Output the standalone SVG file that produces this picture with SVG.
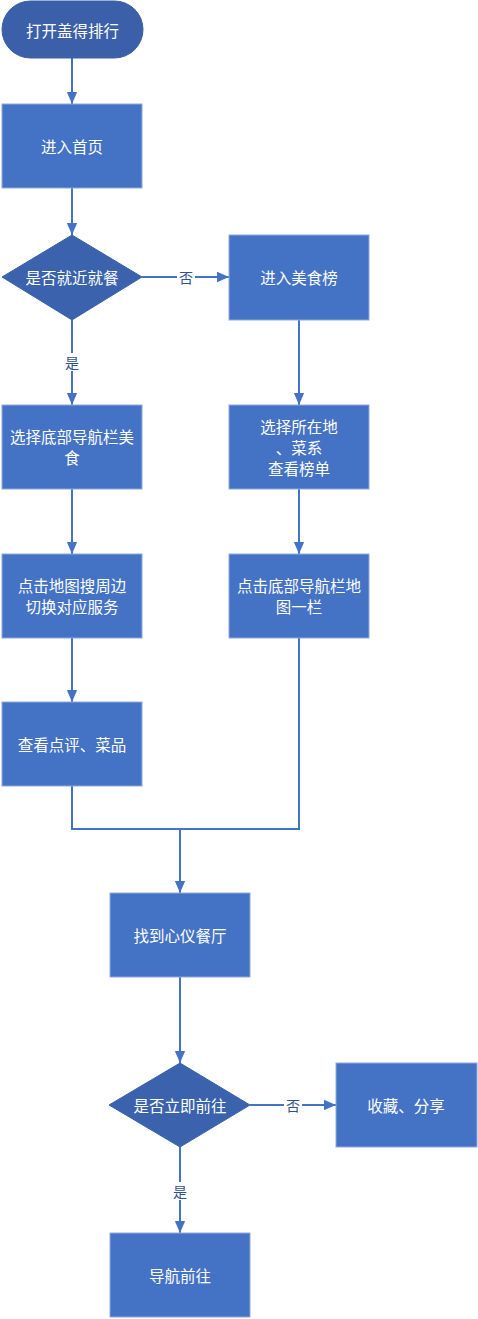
<svg xmlns="http://www.w3.org/2000/svg" width="478" height="1319" viewBox="0 0 478 1319">
<style>
.box{fill:#4472c4;stroke:#8faadc;stroke-width:1}
.dia{fill:#3a62ad;stroke:#3a62ad;stroke-width:1}
.term{fill:#3b5fa9;stroke:#3b5fa9;stroke-width:1}
.t{font-family:"Noto Sans CJK SC","Liberation Sans",sans-serif;font-size:15.5px;fill:#fff;text-anchor:middle;dominant-baseline:central}
.ln{fill:none;stroke:#4472c4;stroke-width:2}
.lb{font-family:"Noto Sans CJK SC","Liberation Sans",sans-serif;font-size:14px;fill:#2f528f;text-anchor:middle;dominant-baseline:central}
</style>
<defs>
<marker id="ah" markerWidth="12" markerHeight="14" refX="14" refY="6" viewBox="0 0 14 12" orient="auto" markerUnits="userSpaceOnUse">
<path d="M0,0 L14,6 L0,12 Z" fill="#4472c4"/>
</marker>
</defs>
<rect width="478" height="1319" fill="#fff"/>
<g id="connectors">
<line class="ln" x1="72" y1="58" x2="72" y2="104" marker-end="url(#ah)"/>
<line class="ln" x1="72" y1="188" x2="72" y2="235" marker-end="url(#ah)"/>
<line class="ln" x1="142" y1="277" x2="229" y2="277" marker-end="url(#ah)"/>
<line class="ln" x1="72" y1="320" x2="72" y2="405" marker-end="url(#ah)"/>
<line class="ln" x1="299" y1="320" x2="299" y2="405" marker-end="url(#ah)"/>
<line class="ln" x1="72" y1="489" x2="72" y2="554" marker-end="url(#ah)"/>
<line class="ln" x1="299" y1="489" x2="299" y2="554" marker-end="url(#ah)"/>
<line class="ln" x1="72" y1="638" x2="72" y2="702" marker-end="url(#ah)"/>
<polyline class="ln" points="72,786 72,829 299,829 299,638"/>
<line class="ln" x1="180" y1="829" x2="180" y2="893" marker-end="url(#ah)"/>
<line class="ln" x1="180" y1="977" x2="180" y2="1063" marker-end="url(#ah)"/>
<line class="ln" x1="250" y1="1105" x2="336" y2="1105" marker-end="url(#ah)"/>
<line class="ln" x1="180" y1="1147" x2="180" y2="1233" marker-end="url(#ah)"/>
<rect x="177" y="268" width="18" height="18" fill="#fff"/>
<text class="lb" x="186" y="277">否</text>
<rect x="63" y="353" width="18" height="18" fill="#fff"/>
<text class="lb" x="72" y="362">是</text>
<rect x="284" y="1096" width="18" height="18" fill="#fff"/>
<text class="lb" x="293" y="1105">否</text>
<rect x="171" y="1182" width="18" height="18" fill="#fff"/>
<text class="lb" x="180" y="1191">是</text>
</g>
<g id="n_start"><rect class="term" x="2" y="1" width="141" height="57" rx="28.5"/><text class="t" x="72.5" y="29.5">打开盖得排行</text></g>
<g id="n_home"><rect class="box" x="2" y="104" width="140" height="84"/><text class="t" x="72" y="146">进入首页</text></g>
<g id="n_d1"><polygon class="dia" points="72,235 142,277 72,320 2,277"/><text class="t" x="72" y="277">是否就近就餐</text></g>
<g id="n_rank"><rect class="box" x="229" y="235" width="140" height="85"/><text class="t" x="299" y="277">进入美食榜</text></g>
<g id="n_nav"><rect class="box" x="2" y="405" width="140" height="84"/><text class="t" x="72" y="436">选择底部导航栏美</text><text class="t" x="72" y="457">食</text></g>
<g id="n_sel"><rect class="box" x="229" y="405" width="140" height="84"/><text class="t" x="299" y="426">选择所在地</text><text class="t" x="299" y="447">、菜系</text><text class="t" x="299" y="468">查看榜单</text></g>
<g id="n_map"><rect class="box" x="2" y="554" width="140" height="84"/><text class="t" x="72" y="585">点击地图搜周边</text><text class="t" x="72" y="606">切换对应服务</text></g>
<g id="n_navmap"><rect class="box" x="229" y="554" width="140" height="84"/><text class="t" x="299" y="585">点击底部导航栏地</text><text class="t" x="299" y="606">图一栏</text></g>
<g id="n_review"><rect class="box" x="2" y="702" width="140" height="84"/><text class="t" x="72" y="744">查看点评、菜品</text></g>
<g id="n_found"><rect class="box" x="110" y="893" width="140" height="84"/><text class="t" x="180" y="935">找到心仪餐厅</text></g>
<g id="n_d2"><polygon class="dia" points="180,1063 250,1105 180,1147 109,1105"/><text class="t" x="180" y="1105">是否立即前往</text></g>
<g id="n_fav"><rect class="box" x="336" y="1063" width="141" height="84"/><text class="t" x="406" y="1105">收藏、分享</text></g>
<g id="n_go"><rect class="box" x="110" y="1233" width="140" height="84"/><text class="t" x="180" y="1275">导航前往</text></g>
</svg>
